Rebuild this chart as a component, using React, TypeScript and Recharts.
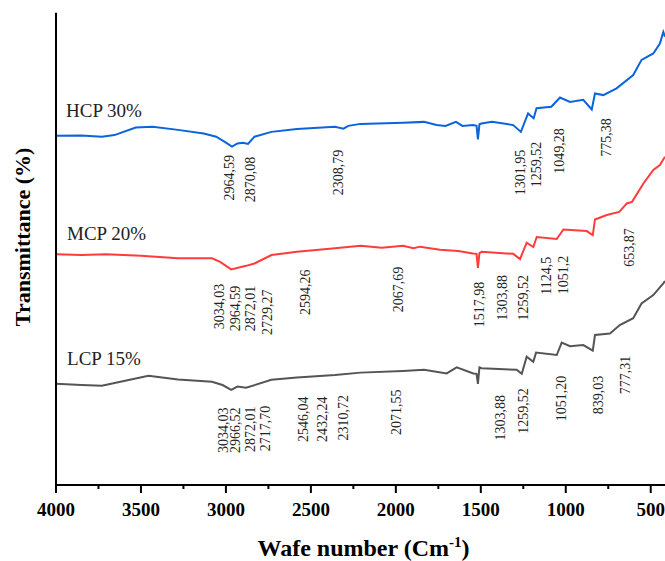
import { ComposedChart, Line, Scatter, XAxis, YAxis } from 'recharts';

// wavenumbers (cm-1) and transmittance
const hcpWn = [4000, 3850, 3730, 3656, 3531, 3431, 3282, 3131, 3057, 3007, 2964, 2932, 2900, 2870, 2832, 2732, 2582, 2358, 2308, 2280, 2208, 1958, 1834, 1760, 1708, 1646, 1608, 1546, 1525, 1517, 1508, 1496, 1434, 1309, 1264, 1222, 1189, 1172, 1085, 1034, 975, 897, 847, 828, 779, 701, 603, 554, 485, 446, 426, 416];
const hcpT = [87.3, 87.4, 87.1, 87.5, 89.4, 89.6, 88.8, 87.9, 87.1, 85.8, 84.6, 85.4, 85.6, 85.3, 87.1, 88.3, 89.0, 89.6, 89.1, 89.8, 90.3, 90.6, 90.8, 90.0, 89.8, 90.8, 89.8, 90.0, 89.8, 86.4, 90.2, 90.4, 90.8, 90.0, 88.3, 92.9, 91.7, 94.2, 94.6, 96.9, 95.8, 96.3, 93.9, 97.9, 97.5, 99.2, 102.5, 106.3, 107.9, 110.4, 113.3, 112.1];

const mcpWn = [4000, 3850, 3706, 3500, 3282, 3082, 3034, 2969, 2882, 2832, 2732, 2582, 2358, 2208, 2083, 1958, 1896, 1858, 1740, 1633, 1546, 1525, 1517, 1508, 1495, 1309, 1269, 1230, 1191, 1171, 1053, 1014, 877, 841, 828, 759, 685, 641, 610, 543, 485, 446, 416];
const mcpT = [57.7, 57.5, 57.7, 57.3, 56.7, 56.7, 55.8, 53.9, 54.8, 55.4, 57.5, 58.3, 59.2, 59.8, 59.3, 59.8, 59.2, 59.6, 58.8, 58.5, 57.9, 57.8, 54.3, 58.0, 58.3, 57.8, 56.5, 60.6, 59.5, 62.0, 61.5, 63.9, 63.5, 62.5, 66.4, 67.5, 68.3, 70.4, 70.8, 75.4, 78.8, 80.0, 82.1];

const lcpWn = [4000, 3850, 3730, 3600, 3456, 3282, 3082, 3020, 2969, 2932, 2882, 2732, 2582, 2358, 2208, 1958, 1834, 1701, 1642, 1544, 1525, 1517, 1508, 1495, 1289, 1259, 1230, 1191, 1175, 1053, 1024, 975, 897, 841, 828, 740, 682, 603, 554, 485, 426, 416];
const lcpT = [25.3, 25.0, 24.8, 26.0, 27.3, 26.4, 25.8, 25.0, 23.8, 24.6, 24.3, 26.3, 26.9, 27.5, 28.1, 28.5, 28.8, 27.9, 29.4, 27.9, 27.8, 25.3, 29.4, 29.2, 28.8, 27.8, 32.1, 30.8, 33.1, 32.5, 35.6, 34.7, 35.0, 33.6, 37.5, 37.9, 40.0, 41.7, 45.4, 47.5, 50.4, 51.0];

const majorTicks = [4000, 3500, 3000, 2500, 2000, 1500, 1000, 500];
const minorTicks = [3750, 3250, 2750, 2250, 1750, 1250, 750];

// series names, placed at the left of each trace
const seriesNames = [
  { label: 'HCP 30%', wn: 3941, t: 92.1 },
  { label: 'MCP 20%', wn: 3935, t: 61.3 },
  { label: 'LCP 15%', wn: 3935, t: 30.0 },
];

// peak labels: wn/t is the top end of each vertical label
const hcpPeaks = [
  { label: '2964,59', wn: 2980, t: 82.5 },
  { label: '2870,08', wn: 2854, t: 82.1 },
  { label: '2308,79', wn: 2338, t: 83.8 },
  { label: '1301,95', wn: 1269, t: 83.8 },
  { label: '1259,52', wn: 1171, t: 85.8 },
  { label: '1049,28', wn: 1034, t: 89.2 },
  { label: '775,38', wn: 759, t: 91.7 },
];

const mcpPeaks = [
  { label: '3034,03', wn: 3039, t: 50.3 },
  { label: '2964,59', wn: 2946, t: 49.8 },
  { label: '2872,01', wn: 2858, t: 49.8 },
  { label: '2729,27', wn: 2756, t: 48.9 },
  { label: '2594,26', wn: 2534, t: 53.9 },
  { label: '2067,69', wn: 1985, t: 54.6 },
  { label: '1517,98', wn: 1509, t: 50.8 },
  { label: '1303,88', wn: 1371, t: 52.5 },
  { label: '1259,52', wn: 1250, t: 52.5 },
  { label: '1124,5', wn: 1112, t: 57.1 },
  { label: '1051,2', wn: 1014, t: 57.3 },
  { label: '653,87', wn: 622, t: 64.2 },
];

const lcpPeaks = [
  { label: '3034,03', wn: 3015, t: 19.4 },
  { label: '2966,52', wn: 2941, t: 19.4 },
  { label: '2872,01', wn: 2854, t: 19.6 },
  { label: '2717,70', wn: 2770, t: 19.8 },
  { label: '2546,04', wn: 2544, t: 22.1 },
  { label: '2432,24', wn: 2430, t: 22.1 },
  { label: '2310,72', wn: 2309, t: 22.5 },
  { label: '2071,55', wn: 1995, t: 23.9 },
  { label: '1303,88', wn: 1387, t: 22.5 },
  { label: '1259,52', wn: 1246, t: 24.2 },
  { label: '1051,20', wn: 1024, t: 27.3 },
  { label: '839,03', wn: 808, t: 27.3 },
  { label: '777,31', wn: 651, t: 32.3 },
];

const SERIF = '"Liberation Serif", "Times New Roman", serif';

const toRows = (wn: number[], t: number[]) => wn.map((w, i) => ({ wn: w, t: t[i] }));

const hcp = toRows(hcpWn, hcpT);
const mcp = toRows(mcpWn, mcpT);
const lcp = toRows(lcpWn, lcpT);
const allPeaks = [...hcpPeaks, ...mcpPeaks, ...lcpPeaks];
const allTicks = [...majorTicks, ...minorTicks].sort((a, b) => b - a);

const PeakLabel = (props: any) => {
  const { cx, cy, payload } = props;
  return (
    <text
      transform={`translate(${cx},${cy}) rotate(-90)`}
      textAnchor="end"
      dominantBaseline="central"
      fontFamily={SERIF}
      fontSize={14}
      fill="#222"
    >
      {payload.label}
    </text>
  );
};

const NameLabel = (props: any) => {
  const { cx, cy, payload } = props;
  return (
    <text x={cx} y={cy} fontFamily={SERIF} fontSize={19} fill="#222">
      {payload.label}
    </text>
  );
};

const XTick = (props: any) => {
  const { x, y, payload } = props;
  const major = majorTicks.includes(payload.value);
  return (
    <g>
      <line x1={x} x2={x} y1={y} y2={y + (major ? 8 : 4)} stroke="#000" strokeWidth={2} />
      {major && (
        <text x={x} y={y + 31} textAnchor="middle" fontFamily={SERIF} fontWeight="bold" fontSize={19} fill="#000">
          {payload.value}
        </text>
      )}
    </g>
  );
};

const XTitle = (props: any) => {
  const { x, y, width } = props.viewBox;
  return (
    <text x={x + width / 2 + 3} y={y + 71} textAnchor="middle" fontFamily={SERIF} fontWeight="bold" fontSize={24} fill="#000">
      <tspan>Wafe number (Cm</tspan>
      <tspan dy={-9} fontSize={15}>-1</tspan>
      <tspan dy={9}>)</tspan>
    </text>
  );
};

const YTitle = (props: any) => {
  const { x, y, height } = props.viewBox;
  const cx = x + 22;
  const cy = y + height / 2 - 12;
  return (
    <text
      transform={`translate(${cx},${cy}) rotate(-90)`}
      textAnchor="middle"
      dominantBaseline="central"
      fontFamily={SERIF}
      fontWeight="bold"
      fontSize={22}
      fill="#000"
    >
      Transmittance (%)
    </text>
  );
};

export default function App() {
  // body margin removed so the chart covers the whole 665x561 page
  return (
    <div style={{ width: 665, height: 561 }}>
      <style>{'body { margin: 0; }'}</style>
      <ComposedChart width={665} height={561} margin={{ top: 12.7, right: 0, bottom: 0, left: 0 }}>
        <XAxis
          xAxisId="top"
          orientation="top"
          type="number"
          domain={[416, 4000]}
          reversed
          height={0}
          tick={false}
          tickLine={false}
          axisLine={{ stroke: '#000', strokeWidth: 2 }}
        />
        <XAxis
          dataKey="wn"
          type="number"
          domain={[416, 4000]}
          reversed
          allowDataOverflow
          ticks={allTicks}
          interval={0}
          tickSize={0}
          tickMargin={0}
          tickLine={false}
          tick={<XTick />}
          height={76}
          axisLine={{ stroke: '#000', strokeWidth: 2 }}
          label={{ content: (p: any) => <XTitle viewBox={p.viewBox} /> }}
        />
        <YAxis
          dataKey="t"
          type="number"
          domain={[0, 118.1]}
          allowDataOverflow
          width={56}
          tick={false}
          tickLine={false}
          axisLine={{ stroke: '#000', strokeWidth: 2 }}
          label={{ content: (p: any) => <YTitle viewBox={p.viewBox} /> }}
        />
        <Line data={hcp} dataKey="t" type="linear" stroke="#0a64dc" strokeWidth={2} dot={false} isAnimationActive={false} />
        <Line data={mcp} dataKey="t" type="linear" stroke="#ff3c3c" strokeWidth={2} dot={false} isAnimationActive={false} />
        <Line data={lcp} dataKey="t" type="linear" stroke="#555555" strokeWidth={2} dot={false} isAnimationActive={false} />
        <Scatter data={allPeaks} dataKey="t" shape={<PeakLabel />} isAnimationActive={false} />
        <Scatter data={seriesNames} dataKey="t" shape={<NameLabel />} isAnimationActive={false} />
      </ComposedChart>
    </div>
  );
}
